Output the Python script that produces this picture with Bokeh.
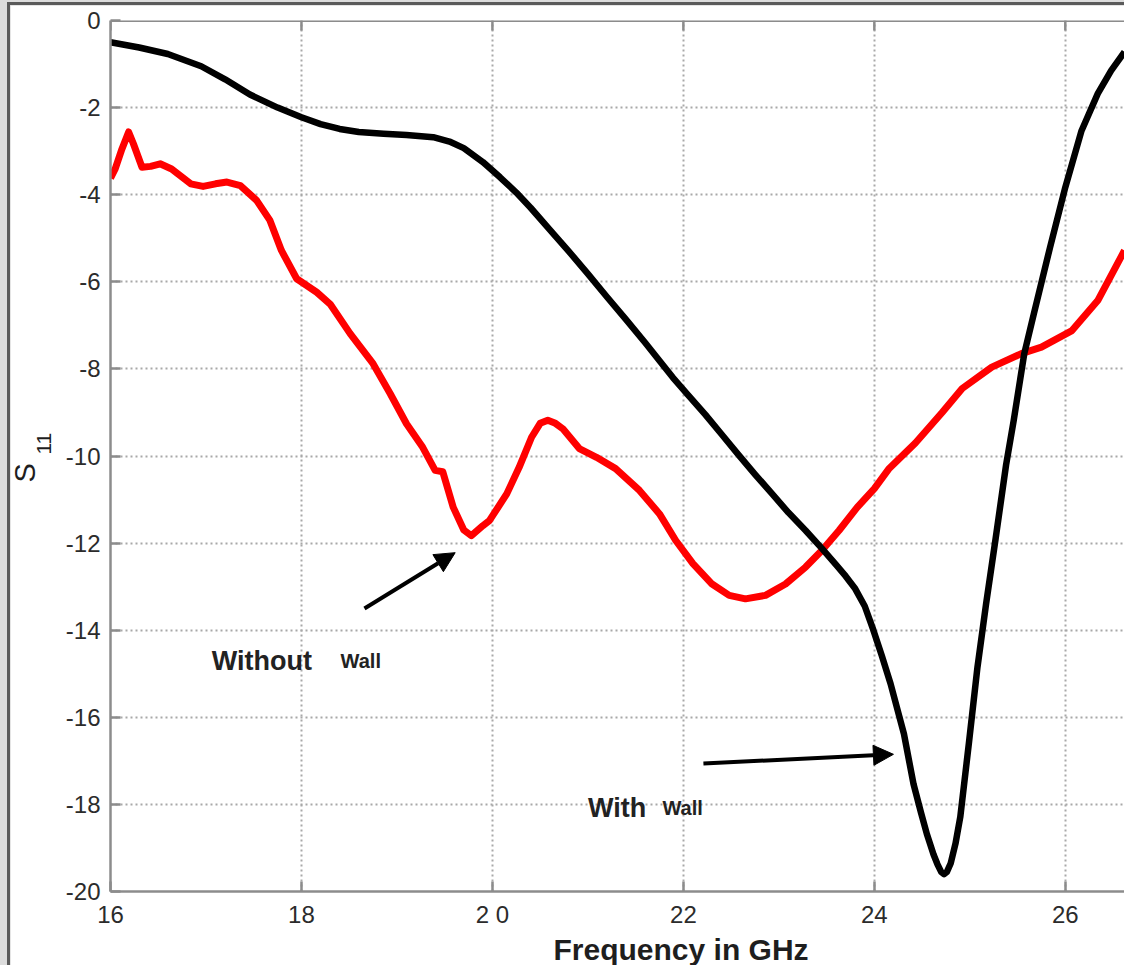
from bokeh.plotting import figure
from bokeh.models import Range1d, FixedTicker, Label, Arrow, NormalHead, Span, Title
from bokeh.layouts import column
from bokeh.embed import file_html
from bokeh.resources import INLINE

# ---- data ----
with_freq = [16.0, 16.3, 16.6, 16.95, 17.2, 17.46, 17.75, 18.0, 18.2, 18.4, 18.6, 18.86,
             19.1, 19.38, 19.55, 19.7, 19.9, 20.08, 20.25, 20.4, 20.6, 20.8, 21.0, 21.2,
             21.4, 21.6, 21.8, 21.89, 22.05, 22.23, 22.4, 22.58, 22.75, 22.93, 23.1, 23.28,
             23.45, 23.6, 23.7, 23.8, 23.9, 23.99, 24.08, 24.17, 24.31, 24.41, 24.49, 24.55, 24.62,
             24.66, 24.7, 24.73, 24.76, 24.8, 24.85, 24.9, 24.99, 25.08, 25.17, 25.27,
             25.38, 25.46, 25.57, 25.67, 25.84, 26.0, 26.17, 26.34, 26.48, 26.62]
with_s11 = [-0.5, -0.62, -0.77, -1.05, -1.35, -1.7, -2.0, -2.22, -2.38, -2.49, -2.56, -2.6,
            -2.63, -2.68, -2.78, -2.93, -3.25, -3.6, -3.95, -4.3, -4.8, -5.3, -5.82, -6.35,
            -6.87, -7.4, -7.95, -8.2, -8.6, -9.05, -9.5, -9.98, -10.42, -10.87, -11.3, -11.71,
            -12.12, -12.5, -12.76, -13.05, -13.45, -14.0, -14.6, -15.23, -16.38, -17.53, -18.2, -18.68, -19.15,
            -19.37, -19.55, -19.6, -19.55, -19.35, -18.9, -18.29, -16.6, -14.85, -13.4, -11.9,
            -10.2, -9.18, -7.65, -6.74, -5.21, -3.83, -2.53, -1.68, -1.15, -0.72]

without_freq = [16.0, 16.05, 16.12, 16.19, 16.24, 16.33, 16.42, 16.52, 16.64, 16.84, 16.97,
                17.1, 17.22, 17.36, 17.53, 17.67, 17.79, 17.95, 18.16, 18.3, 18.51, 18.75,
                18.93, 19.1, 19.27, 19.4, 19.48, 19.59, 19.7, 19.78, 19.9, 19.97, 20.15,
                20.28, 20.41, 20.5, 20.58, 20.66, 20.74, 20.91, 21.09, 21.29, 21.54, 21.75,
                21.92, 22.1, 22.3, 22.48, 22.65, 22.86, 23.07, 23.28, 23.45, 23.63, 23.82,
                24.0, 24.15, 24.43, 24.71, 24.92, 25.23, 25.54, 25.75, 26.07, 26.34, 26.62]
without_s11 = [-3.62, -3.4, -2.95, -2.56, -2.83, -3.37, -3.35, -3.29, -3.41, -3.75, -3.81,
               -3.75, -3.71, -3.79, -4.13, -4.59, -5.28, -5.93, -6.24, -6.51, -7.19, -7.88,
               -8.57, -9.26, -9.8, -10.33, -10.36, -11.18, -11.7, -11.83, -11.6, -11.48, -10.87,
               -10.26, -9.57, -9.25, -9.18, -9.25, -9.38, -9.83, -10.03, -10.29, -10.79, -11.33,
               -11.94, -12.47, -12.94, -13.2, -13.28, -13.2, -12.94, -12.55, -12.17, -11.71, -11.18,
               -10.75, -10.3, -9.7, -9.0, -8.45, -7.96, -7.65, -7.5, -7.12, -6.43, -5.28]

x_ticks = [16, 18, 20, 22, 24, 26]
x_tick_labels = {16: "16", 18: "18", 20: "2 0", 22: "22", 24: "24", 26: "26"}
y_ticks = [-20, -18, -16, -14, -12, -10, -8, -6, -4, -2, 0]
y_tick_labels = {t: str(t) for t in y_ticks}

FONT = "Liberation Sans"
AXIS_GREY = "#8c8c8c"

p = figure(width=1114, height=960, output_backend="svg", toolbar_location=None,
           x_range=Range1d(16, 26.62), y_range=Range1d(-20, 0),
           min_border_left=100, min_border_top=15, min_border_bottom=74, min_border_right=0,
           background_fill_color="white", border_fill_color="white")
p.margin = (5, 0, 0, 10)
p.styles = {"outline": "3px solid #5a5a5a"}
p.outline_line_color = None

# grid
for g in (p.xgrid, p.ygrid):
    g.grid_line_color = "#a8a8a8"
    g.grid_line_dash = "2 3"
    g.grid_line_width = 2
p.xgrid.ticker = FixedTicker(ticks=x_ticks)
p.ygrid.ticker = FixedTicker(ticks=y_ticks)

# axes
p.xaxis.ticker = FixedTicker(ticks=x_ticks)
p.xaxis.major_label_overrides = x_tick_labels
p.yaxis.ticker = FixedTicker(ticks=y_ticks)
p.yaxis.major_label_overrides = y_tick_labels
for ax in (p.xaxis[0], p.yaxis[0]):
    ax.axis_line_color = AXIS_GREY
    ax.axis_line_width = 2.5
    ax.major_tick_line_color = AXIS_GREY
    ax.major_tick_line_width = 2.5
    ax.major_tick_in = 10
    ax.major_tick_out = 0
    ax.minor_tick_line_color = None
    ax.major_label_text_font = FONT
    ax.major_label_text_font_size = "24px"
    ax.major_label_text_color = "#2b2b2b"
p.xaxis.major_label_standoff = 9
p.yaxis.major_label_standoff = 10

# axis titles (side-panel titles are not clipped to the frame)
p.add_layout(Title(text="Frequency in GHz", align="left", offset=443, standoff=0,
                   vertical_align="bottom", text_font=FONT, text_font_size="30px",
                   text_font_style="bold", text_color="#1e1e1e"), "below")
t11 = Title(text="11", align="left", offset=437, standoff=24,
            vertical_align="bottom", text_font=FONT, text_font_size="21px",
            text_font_style="normal", text_color="#1e1e1e")
tS = Title(text="S", align="left", offset=409, standoff=0,
           vertical_align="bottom", text_font=FONT, text_font_size="29px",
           text_font_style="normal", text_color="#1e1e1e")
try:
    tS.standoff = -37
except Exception:
    tS.standoff = 0
p.add_layout(t11, "left")
p.add_layout(tS, "left")

# top border of the box with inward ticks
p.add_layout(Span(location=0, dimension="width", line_color=AXIS_GREY, line_width=3))
p.segment(x0=x_ticks, y0=[0] * len(x_ticks), x1=x_ticks, y1=[-0.23] * len(x_ticks),
          line_color=AXIS_GREY, line_width=2.5)

# curves
p.line(without_freq, without_s11, line_color="#ff0000", line_width=7, line_join="round")
p.line(with_freq, with_s11, line_color="black", line_width=6.5, line_join="round")

# arrows
p.add_layout(Arrow(end=NormalHead(size=20, fill_color="black", line_color="black"),
                   x_start=18.66, y_start=-13.50, x_end=19.61, y_end=-12.22,
                   line_color="black", line_width=4))
p.add_layout(Arrow(end=NormalHead(size=20, fill_color="black", line_color="black"),
                   x_start=22.21, y_start=-17.06, x_end=24.20, y_end=-16.85,
                   line_color="black", line_width=4))

# annotation texts
def lab(x, y, text, size):
    p.add_layout(Label(x=x, y=y, text=text, text_font=FONT, text_font_size=size,
                       text_font_style="bold", text_color="#222222",
                       text_align="left", text_baseline="alphabetic"))

lab(17.06, -14.70, "Without", "27px")
lab(18.41, -14.70, "Wall", "20px")
lab(21.00, -18.09, "With", "27px")
lab(21.78, -18.09, "Wall", "20px")

layout = column(p, styles={"background-color": "#dcdcdc"})

open("out.html", "w").write(file_html(layout, INLINE))
